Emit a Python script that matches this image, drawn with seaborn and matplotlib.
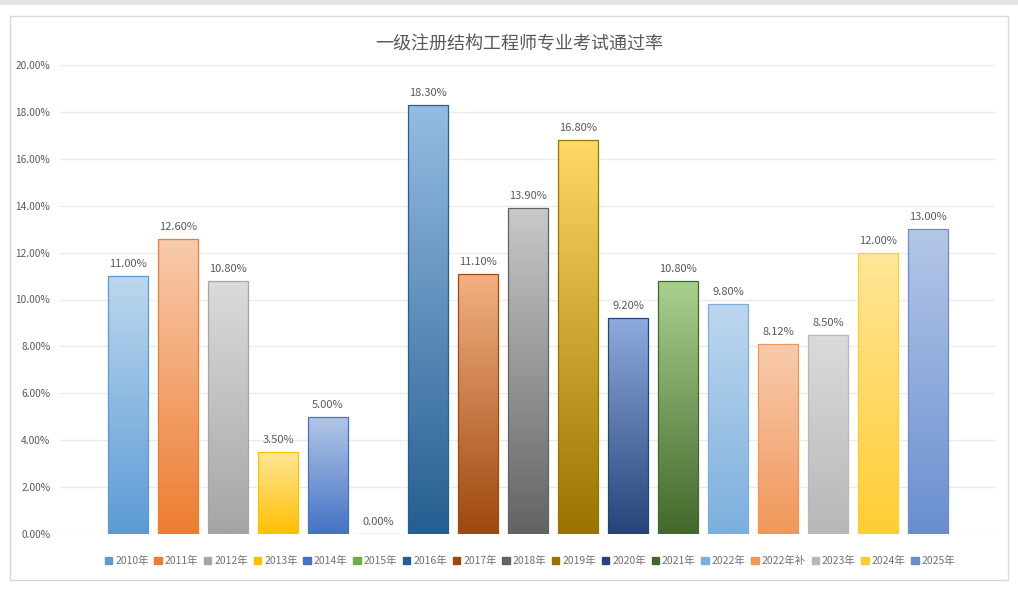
import numpy as np
import pandas as pd
import seaborn as sns
import matplotlib.pyplot as plt
from matplotlib import colors
from matplotlib.patches import Patch, Rectangle
from matplotlib.ticker import FuncFormatter

years = ["2010年", "2011年", "2012年", "2013年", "2014年", "2015年", "2016年", "2017年",
         "2018年", "2019年", "2020年", "2021年", "2022年", "2022年补", "2023年", "2024年", "2025年"]
rates = [11.00, 12.60, 10.80, 3.50, 5.00, 0.00, 18.30, 11.10,
         13.90, 16.80, 9.20, 10.80, 9.80, 8.12, 8.50, 12.00, 13.00]
top_colors = ["#BDD7EE", "#F8CBAD", "#DBDBDB", "#FFE699", "#B4C7E7", "#C5E0B4", "#95BDE3", "#F4B183",
              "#C9C9C9", "#FFD966", "#8FAADC", "#A9D18E", "#BDD7EE", "#F8CBAD", "#DBDBDB", "#FFE699", "#B4C7E7"]
bottom_colors = ["#5B9BD5", "#ED7D31", "#A5A5A5", "#FFC000", "#4472C4", "#70AD47", "#255E91", "#9E480E",
                 "#636363", "#997300", "#264478", "#43682B", "#7CAFDD", "#F1975A", "#B7B7B7", "#FFCD33", "#698ED0"]
title = "一级注册结构工程师专业考试通过率"
yticks = [0, 2, 4, 6, 8, 10, 12, 14, 16, 18, 20]

df = pd.DataFrame({"year": years, "rate": rates})

sns.set_theme(style="white")
plt.rcParams['font.family'] = ['Noto Sans CJK SC', 'DejaVu Sans']
txt = "#595959"

fig = plt.figure(figsize=(10.18, 5.92), dpi=100)
ax = fig.add_axes([60 / 1018, 1 - 534 / 592, 935 / 1018, (534 - 65) / 592])

# outer frame + top band like the screenshot
fig.patches.append(Rectangle((10 / 1018, 1 - 580 / 592), 998 / 1018, 564 / 592,
                             transform=fig.transFigure, fill=False, edgecolor="#D9D9D9", linewidth=1))
fig.patches.append(Rectangle((0, 1 - 5 / 592), 1, 5 / 592, transform=fig.transFigure,
                             facecolor="#E4E4E4", edgecolor="none"))

sns.barplot(data=df, x="year", y="rate", hue="year", palette=dict(zip(years, bottom_colors)),
            width=0.8, legend=False, ax=ax, saturation=1)

# replace flat fills with vertical gradients
for i, bar in enumerate(ax.patches):
    x0 = bar.get_x()
    w = bar.get_width()
    h = bar.get_height()
    bar.set_facecolor("none")
    bar.set_edgecolor(bottom_colors[i])
    bar.set_linewidth(0.9)
    if h <= 0:
        continue
    c1 = np.array(colors.to_rgb(top_colors[i]))
    c2 = np.array(colors.to_rgb(bottom_colors[i]))
    t = np.linspace(0, 1, 200)[:, None, None]
    grad = c1 * (1 - t) + c2 * t
    im = ax.imshow(grad, extent=[x0, x0 + w, 0, h], origin="upper", aspect="auto", zorder=1.5)
    im.set_clip_path(bar)
    bar.set_zorder(2)

for i, v in enumerate(rates):
    ax.annotate(f"{v:.2f}%", (i, v), xytext=(0, 5), textcoords="offset points",
                ha="center", va="bottom", fontsize=8, color=txt)

ax.set_xlim(-1.36, 17.34)
ax.set_ylim(0, 20)
ax.set_yticks(yticks)
ax.yaxis.set_major_formatter(FuncFormatter(lambda y, p: f"{y:.2f}%"))
ax.set_xticks([])
ax.set_xlabel("")
ax.set_ylabel("")
ax.tick_params(axis="y", labelsize=7.3, colors=txt, length=0, pad=7)
for s in ax.spines.values():
    s.set_visible(False)
ax.grid(axis="y", color="#EBEBEB", linewidth=1)
ax.set_axisbelow(True)

fig.text(519 / 1018, 1 - 44 / 592, title, ha="center", va="center", fontsize=13, color=txt)

handles = [Patch(facecolor=bottom_colors[i], edgecolor=bottom_colors[i]) for i in range(len(years))]
leg = fig.legend(handles, years, loc="center", bbox_to_anchor=(530 / 1018, 1 - 561 / 592), ncol=len(years),
                 frameon=False, fontsize=7.5, handlelength=0.7, handleheight=0.7, handletextpad=0.3,
                 columnspacing=0.55)
for t in leg.get_texts():
    t.set_color("#707070")

fig.savefig("out.png", dpi=100)
